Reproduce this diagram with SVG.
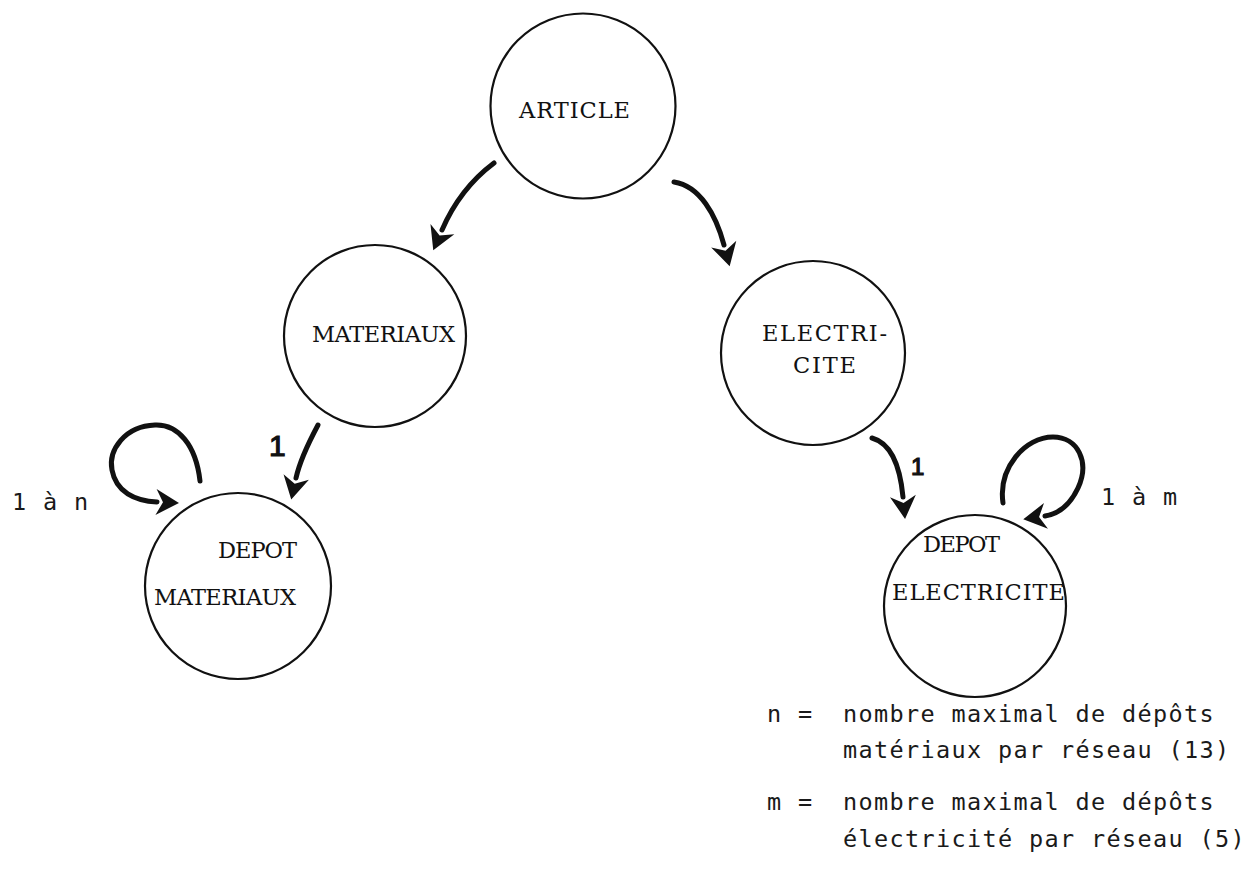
<svg xmlns="http://www.w3.org/2000/svg" width="1257" height="877" viewBox="0 0 1257 877">
<style>
.node{fill:none;stroke:#111;stroke-width:2.2}
.lbl{font-family:"DejaVu Serif","Liberation Serif",serif;font-size:22.5px;fill:#111}
.tw{font-family:"DejaVu Sans Mono",monospace;font-size:23.5px;letter-spacing:1.35px;fill:#1a1a1a}
.hand{font-family:"Liberation Sans",Arial,sans-serif;fill:#111;stroke:#111;stroke-width:1.2}
.arc{fill:none;stroke:#111;stroke-width:5;stroke-linecap:round;marker-end:url(#head)}
</style>
<defs>
<marker id="head" markerUnits="userSpaceOnUse" markerWidth="40" markerHeight="40" viewBox="-4 -20 40 40" refX="0" refY="0" orient="auto">
<path d="M-1,-13 L22,0 L-1,13 L6,0 Z" fill="#111"/>
</marker>
</defs>
<rect width="1257" height="877" fill="#fff"/>

<g id="article">
<circle class="node" cx="583" cy="106" r="92.5"/>
<text class="lbl" x="519" y="118" textLength="111" lengthAdjust="spacing">ARTICLE</text>
</g>

<g id="materiaux">
<circle class="node" cx="375" cy="336" r="91"/>
<text class="lbl" x="312" y="342" textLength="143" lengthAdjust="spacing">MATERIAUX</text>
</g>

<g id="electricite">
<circle class="node" cx="813" cy="353" r="92"/>
<text class="lbl" x="762" y="341" textLength="125" lengthAdjust="spacing">ELECTRI-</text>
<text class="lbl" x="793" y="373" textLength="63" lengthAdjust="spacing">CITE</text>
</g>

<g id="depot-materiaux">
<circle class="node" cx="238" cy="586" r="93"/>
<text class="lbl" x="218" y="558" textLength="79" lengthAdjust="spacing">DEPOT</text>
<text class="lbl" x="154" y="605" textLength="142" lengthAdjust="spacing">MATERIAUX</text>
</g>

<g id="depot-electricite">
<circle class="node" cx="975" cy="606" r="91"/>
<text class="lbl" x="923" y="552" textLength="77" lengthAdjust="spacing">DEPOT</text>
<text class="lbl" x="892" y="600" textLength="173" lengthAdjust="spacing">ELECTRICITE</text>
</g>

<g id="connectors">
<path class="arc" d="M494,163 C474,178 455,200 442,230"/>
<path class="arc" d="M674,182 C700,186 716,215 724,245"/>
<path class="arc" d="M318,425 C310,440 300,460 296,478"/>
<path class="arc" d="M872,438 C890,443 900,465 903,497"/>
<path class="arc" d="M200,481 C196,445 178,424 155,425 C125,426 108,450 112,470 C116,492 135,501 157,502"/>
<path class="arc" d="M1003,503 C998,468 1025,437 1053,437 C1078,437 1090,462 1078,488 C1070,505 1058,514 1045,516"/>
<text class="hand" x="269" y="456" font-size="30">1</text>
<text class="hand" x="911" y="475" font-size="24">1</text>
</g>

<g id="cardinalities">
<text class="tw" x="12" y="510">1 à n</text>
<text class="tw" x="1101" y="505">1 à m</text>
</g>

<g id="legend">
<text class="tw" y="722"><tspan x="767">n =</tspan><tspan x="843">nombre maximal de dépôts</tspan></text>
<text class="tw" x="843" y="758">matériaux par réseau (13)</text>
<text class="tw" y="810"><tspan x="767">m =</tspan><tspan x="843">nombre maximal de dépôts</tspan></text>
<text class="tw" x="843" y="847">électricité par réseau (5)</text>
</g>
</svg>
